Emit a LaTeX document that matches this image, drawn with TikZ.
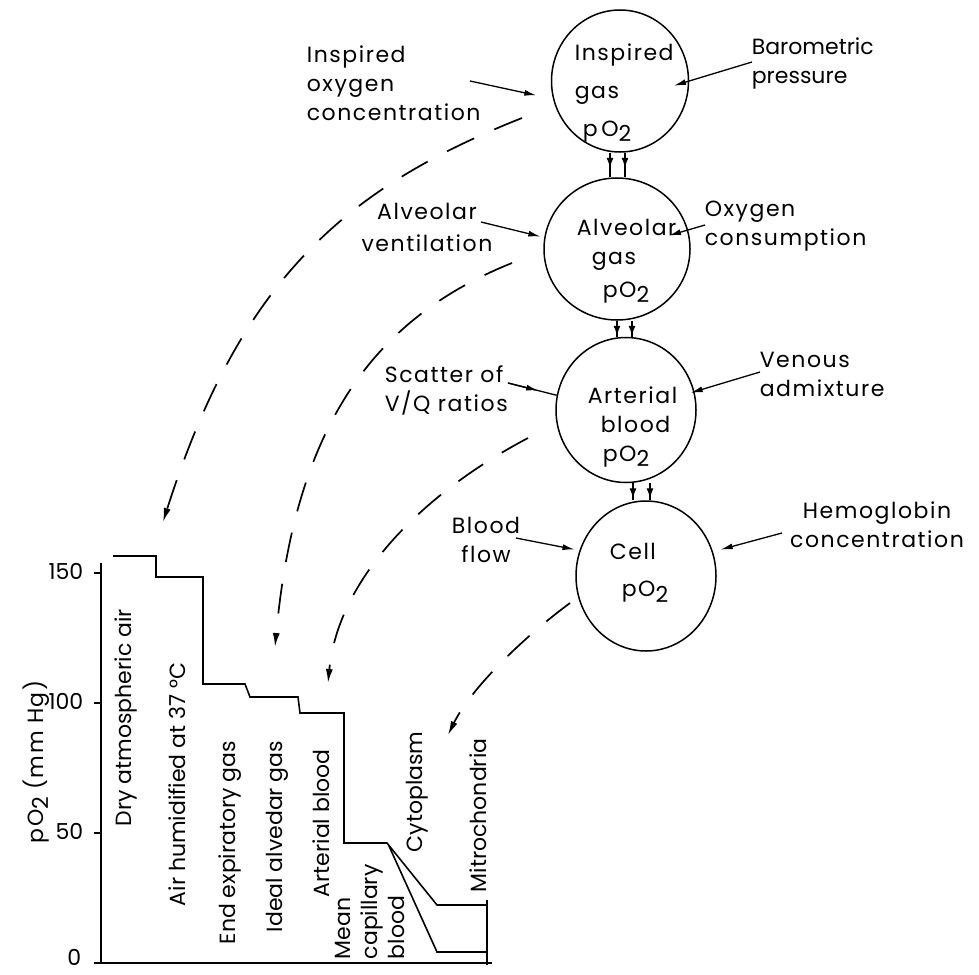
\documentclass[tikz,border=0pt]{standalone}
\usepackage{fontspec}
\setmainfont{Poppins}
\newfontfamily\spaced{Poppins}[LetterSpace=7]
\usepackage{tikz}
\usetikzlibrary{arrows.meta, shapes.geometric, positioning, calc}

\newcommand{\poxy}{pO\raisebox{-0.45ex}{2}}

\begin{document}
\begin{tikzpicture}[x=1pt, y=-1pt, line width=1.6pt,
    font=\fontsize{22}{29}\selectfont,
    bubble/.style={draw, ellipse, inner sep=0pt, line width=1.5pt},
    lbl/.style={inner sep=0pt, font=\fontsize{22}{29}\spaced},
    feed/.style={-{Latex[length=12pt,width=6pt]}, line width=1.3pt},
    link/.style={-{Latex[length=14pt,width=7pt]}, dash pattern=on 30pt off 22pt, line width=1.7pt},
    vert/.style={rotate=90, anchor=west, inner sep=0pt}]
    \useasboundingbox (0,0) rectangle (979,974);

    % 1. The four pO2 circles
    \node[bubble, minimum width=137pt, minimum height=142pt] (insp) at (620,81) {};
    \node[bubble, minimum width=146pt, minimum height=142pt] (alv) at (617,249) {};
    \node[bubble, minimum width=140pt, minimum height=145pt] (art) at (626,410) {};
    \node[bubble, minimum width=140pt, minimum height=150pt] (cell) at (646,576) {};

    \node[lbl, align=left, anchor=west] (insp-txt) at (574,93) {Inspired\\[9pt]gas\\[9pt]\hspace{8pt}p\,O\raisebox{-0.45ex}{2}};
    \node[lbl, align=left, anchor=west] (alv-txt) at (576,261) {Alveolar\\\hspace{15pt}gas\\[4pt]\hspace{26pt}\poxy};
    \node[lbl, align=left, anchor=west] (art-txt) at (587,427) {Arterial\\\hspace{13pt}blood\\\hspace{15pt}\poxy};
    \node[lbl, align=left, anchor=west] (cell-txt) at (609,573) {Cell\\[8pt]\hspace{12pt}\poxy};

    % 2. Small double arrows between the circles
    \foreach \up/\dn/\xa/\xb in {insp/alv/610/625, alv/art/617/632, art/cell/633/650} {
        \foreach \x in {\xa,\xb} {
            \draw[line width=1.2pt] (\up.south -| \x,0) -- (\dn.north -| \x,0);
            \draw[-{Latex[length=10pt,width=7pt]}, line width=1.2pt] (\up.south -| \x,0) -- ++(0,15);
        }
    }

    % 3. Factors acting on each level
    \node[lbl, align=left, anchor=west] (ioc) at (306,83) {Inspired\\oxygen\\concentration};
    \node[lbl, align=left, anchor=west, font=\fontsize{22}{29}\selectfont] (baro) at (751,63) {Barometric\\pressure};
    \node[lbl, align=center] (avent) at (427,227) {Alveolar\\[3pt]ventilation};
    \node[lbl, align=left, anchor=west] (ocons) at (704,226) {Oxygen\\consumption};
    \node[lbl, align=left, anchor=west] (vq) at (384,390) {Scatter of\\V/Q ratios};
    \node[lbl, align=left, anchor=west] (venous) at (759,374) {Venous\\admixture};
    \node[lbl, align=center] (bflow) at (486,540) {Blood\\flow};
    \node[lbl, align=center] (hemo) at (877,525) {Hemoglobin\\concentration};

    \coordinate (ioc-tail) at (470,81);
    \coordinate (baro-tail) at (752,62);
    \coordinate (avent-tail) at (481,222);
    \coordinate (ocons-tail) at (705,225);
    \coordinate (vq-tail) at (508,383);
    \coordinate (venous-tail) at (760,372);
    \coordinate (bflow-tail) at (516,538);
    \coordinate (hemo-tail) at (782,533);

    \draw[feed, shorten >=17pt] (ioc-tail) -- (insp.195);
    \draw[feed, shorten >=-16pt] (baro-tail) -- (insp.east);
    \draw[feed, shorten >=4pt] (avent-tail) -- (alv.171);
    \draw[feed, shorten >=-20pt] (ocons-tail) -- (alv.15);
    \draw[line width=1.3pt] (vq-tail) -- (art.168);
    \draw[feed] (vq-tail) -- ($(vq-tail)!0.62!(art.168)$);
    \draw[feed, shorten >=-4pt] (venous-tail) -- (art.15);
    \draw[feed, shorten >=5pt] (bflow-tail) -- (cell.159);
    \draw[feed, shorten >=8pt] (hemo-tail) -- (cell.20);

    % 4. Axes, ticks and labels
    \draw (101,563) -- (101,963) -- (492,963);
    \foreach \v in {50,100,150} {
        \draw (94,963-2.6*\v) -- (101,963-2.6*\v);
        \node[inner sep=0pt, anchor=east] (tick\v) at (84,961-2.6*\v) {\v};
    }
    \draw (94,963) -- (101,963);
    \node[inner sep=0pt, anchor=east] (tick0) at (82,957) {0};
    \node[lbl, rotate=90] (ylab) at (36,762) {\poxy\ (mm Hg)};

    % 5. The pO2 cascade
    \draw (113,556) -- (156,556) -- (156,577) -- (203,577) -- (203,684) -- (245,684)
        -- (250,697) -- (298,697) -- (300,713) -- (344,713) -- (344,843) -- (387,843)
        -- (437,905) -- (487,905);
    \draw (389,846) -- (437,952) -- (487,952);
    \draw (487,900) -- (487,965);

    \node[vert] (dry) at (126,827) {Dry atmospheric air};
    \node[vert] (humid) at (177,907) {Air humidified at 37 °C};
    \node[vert] (endexp) at (230,945) {End expiratory gas};
    \node[vert] (ideal) at (277,933) {Ideal alvedar gas};
    \node[vert] (artb) at (321,898) {Arterial blood};
    \node[vert, align=left, font=\fontsize{22}{27}\selectfont] (mcap) at (370,960) {Mean\\capillary\\blood};
    \node[vert] (cyto) at (417,853) {Cytoplasm};
    \node[vert] (mito) at (478,893) {Mitrochondria};

    % 6. Dashed arrows from the circles down to the cascade
    \coordinate (from-insp) at (522,118);
    \coordinate (from-alv) at (512,263);
    \coordinate (from-art) at (528,438);
    \coordinate (from-cell) at (570,603);
    \coordinate (to-dry) at (163,522);
    \coordinate (to-ideal) at (275,647);
    \coordinate (to-artb) at (328,683);
    \coordinate (to-mito) at (448,735);

    \draw[link] (from-insp) .. controls (345,188) and (240,280) .. (to-dry);
    \draw[link] (from-alv) .. controls (370,320) and (295,430) .. (to-ideal);
    \draw[link] (from-art) .. controls (420,495) and (338,580) .. (to-artb);
    \draw[link] (from-cell) .. controls (520,640) and (470,690) .. (to-mito);
\end{tikzpicture}
\end{document}
